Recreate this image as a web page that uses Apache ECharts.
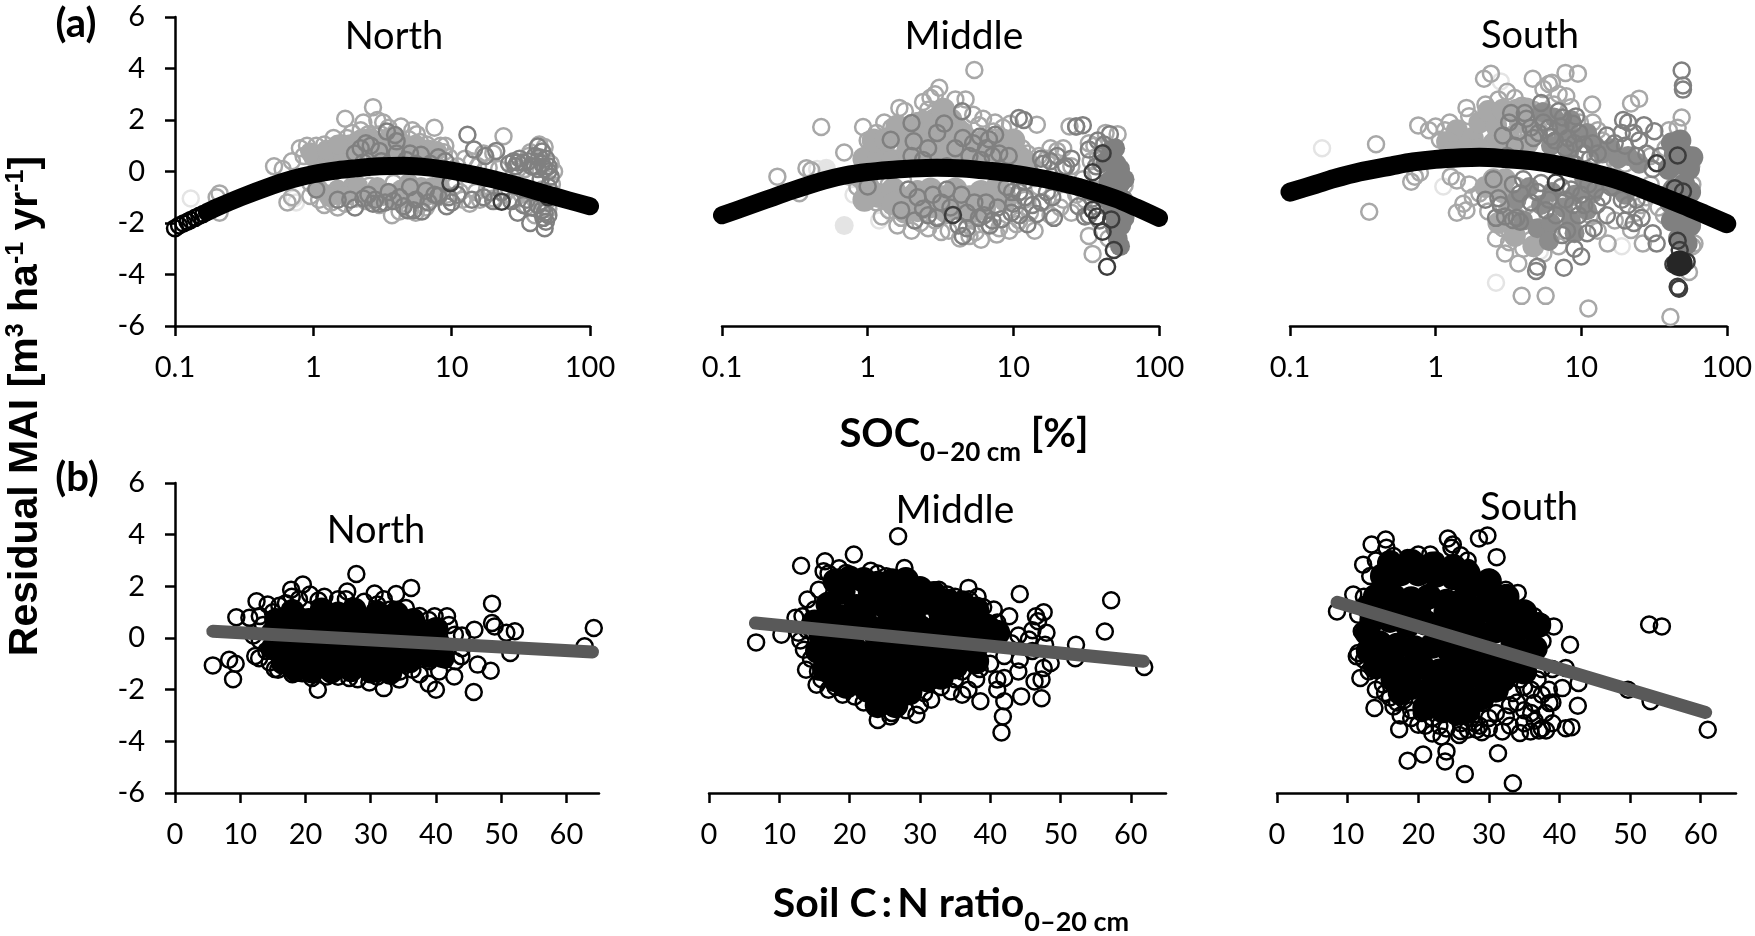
<!DOCTYPE html>
<html><head><meta charset="utf-8">
<script src="https://cdn.jsdelivr.net/npm/echarts@6/dist/echarts.min.js"></script>
<style>html,body{margin:0;padding:0;background:#fff}#c{width:1755px;height:936px}</style></head>
<body><div id="c"></div>
<script>
const cnTicks=[0,10,20,30,40,50,60];
const socNorthFaint=[[0.13,-1.05],[0.75,-1.2],[0.72,-1.05]];
const socNorthLight=[[0.21,-0.85],[0.2,-1.0],[0.21,-1.6],[0.52,0.2],[0.6,0.1],[0.65,-1.2],[0.7,-1.0],[0.8,0.9],[0.85,0.6],[0.7,0.4],[0.9,1.0],[1.05,1.0],[1.1,0.7],[1.2,1.05],[1.2,-1.3],[1.3,0.8],[1.4,1.3],[1.5,-1.4],[1.6,1.1],[1.7,2.05],[1.9,1.5],[2.2,1.6],[2.3,1.9],[2.7,2.5],[2.9,2.0],[3.2,1.9],[3.5,1.7],[4.3,1.75],[5.2,1.6],[5.6,1.45],[7.5,1.7],[9,1.0],[8.3,1.0],[7.5,0.7],[8.8,0.75],[3.7,-1.7],[4.2,-1.55],[5,-1.5],[5.5,-1.6],[6.5,-1.4],[7,-1.1],[8,-1],[9.2,-0.9],[1.1,-1.1],[0.95,-0.95],[1.35,-1.2],[1.7,-1.25],[2.4,-1.15],[3,-1.3],[12,-1.1],[15,-0.8],[13.5,-1.25],[23.7,1.37],[20,0.7],[17,0.7],[14,0.4],[11,0.2],[24,-0.9],[28,-1.1],[35,-1.35],[40,-1.7],[43,1.05],[52,0.3],[55,0],[53,-0.5],[36,0.6],[18,-0.7],[6.2,0.85],[4,0.95],[2.6,0.6],[1.6,0.5]];
const socNorthLight2=[[1.15,0.3],[1.25,0.1],[1.45,0.9],[1.55,0.2],[1.75,1.3],[1.85,0.95],[2.05,1.2],[2.15,0.15],[2.5,1.45],[2.75,1.15],[3.05,1.45],[3.35,0.5],[3.7,1.05],[4.1,1.3],[4.5,0.45],[4.9,1.25],[5.4,0.95],[5.9,1.15],[6.6,1.05],[7.1,0.3],[8.1,0.35],[9.6,0.55],[0.95,-0.45],[1.25,-0.85],[1.65,-0.5],[2.05,-1.05],[2.55,-0.55],[3.15,-0.95],[3.8,-0.45],[4.4,-1.25],[5.2,-0.95],[6,-1.25],[7,-0.6],[8.2,-0.7],[10.5,-0.55],[11.5,-0.8],[12.5,0.5],[15.5,0.2],[18.5,0.15],[22,0.1],[16,-1.1],[20,-1.05],[26,-0.7],[32,-0.9],[36,-0.9],[40,-1.1],[45,-0.7],[48,-1.2],[50,-1.45],[52,-0.8],[30,0.1],[37,0.75],[34,0.1],[47,0.95]];
const socNorthCore=[[1,0.55],[1.3,0.45],[1.6,0.75],[2,0.5],[2.4,1.0],[2.8,0.6],[3.3,0.9],[3.9,0.6],[4.6,0.95],[5.3,0.6],[6.2,0.6],[7,0.55],[1.5,-0.7],[1.9,-0.6],[2.3,-0.85],[2.9,-0.6],[3.5,-0.85],[4.3,-0.7],[5.1,-0.85],[6,-0.6],[1.1,-0.7],[2.6,1.3],[3.6,1.3],[1.8,1.05],[2.2,1.25],[4.2,1.2],[5.5,1.05],[0.95,0.75],[1.25,0.85],[1.5,1.05],[2.9,1.15],[3.3,0.55],[4.6,0.55],[5.8,0.95],[6.8,0.85],[7.8,0.8],[1.3,-1],[1.7,-0.95],[2.1,-0.55],[2.6,-1.05],[3.2,-0.95],[3.9,-1.05],[4.7,-1.05],[5.6,-0.9],[6.6,-0.95],[7.3,-0.6],[8.2,-0.55],[4.9,-0.45]];
const socNorthMid=[[3.4,1.55],[3.9,1.42],[4,1.17],[2.4,1.1],[2.6,1.0],[2.2,0.9],[2,0.7],[1.05,-0.7],[13,1.43],[14.5,0.85],[17.5,0.6],[21,0.8],[26,0.3],[31,0.5],[33,0.35],[29,0.2],[42,0.97],[45,0.78],[38,0.2],[48,0.5],[50,0.2],[44,-0.3],[50,-0.6],[48,-1.95],[47,-2.2],[46,-1.8],[37,-2],[45,-1.5],[30,-1.6],[33,-1.3],[17,-1],[19,-0.8],[10,-1.2],[9.5,-1],[5.3,-1.5],[4.8,-1.5],[6.1,-1.55],[3,-1.25],[2.8,-1.1],[2,-1.4],[1.85,-1.1],[1.5,-1.1],[2.5,-0.9],[3.5,-0.8],[4.2,-1],[5,-0.6],[6.5,-0.75],[7.5,-0.9],[5,0.7],[6,0.65],[8,0.55],[9,0.4],[3,0.8],[4,0.7],[40,0.2],[43,0.55],[50,0],[52,-0.2]];
const socNorthMid2=[[2.3,-1.05],[2.7,-1.25],[3.3,-1.2],[3.8,-1.15],[4.5,-1.35],[5.5,-1.1],[6.8,-1.2],[8,-0.95],[9.2,-1.35],[11,-0.9],[14,-1.1],[20,-1.15],[23,-0.8],[27,-1.15],[35,-1.1],[38,-1.4],[42,-1.3],[47,-1.6],[50,-1.7],[40,0.6],[36,0.4],[28,0.4],[30,0.35],[45,0.3],[47,0.1],[42,0.1],[5.5,0.3],[4.7,0.45],[3.1,0.4],[2.3,0.35],[7,0.3]];
const socNorthDark=[[9.8,-0.45],[23,-1.17],[50,-1]];
const curveNorthRings=[[0.1,-2.2],[0.107,-2.1],[0.115,-2.02],[0.123,-1.95],[0.13,-1.88],[0.14,-1.8],[0.15,-1.72],[0.16,-1.65]];
const curveNorth=[[0.17,-1.58],[0.2,-1.4],[0.3,-1.0],[0.5,-0.55],[0.7,-0.3],[1,-0.1],[1.5,0.05],[2,0.12],[3,0.2],[4.5,0.22],[7,0.15],[10,0.03],[15,-0.15],[20,-0.3],[30,-0.55],[50,-0.9],[70,-1.12],[100,-1.35]];

const socMiddleFaint=[[0.45,0.1],[0.52,0.0],[0.8,-0.9],[1.2,-1.9],[1.8,-1.5]];
const socMiddleFaintSolid=[[0.52,0.13],[0.69,-2.1]];
const socMiddleLight=[[0.24,-0.2],[0.34,-0.84],[0.38,0.13],[0.41,0.05],[0.48,1.73],[0.69,0.74],[0.75,-0.2],[0.85,-0.6],[0.93,1.73],[1,1.2],[1.1,0.9],[1.15,1.5],[1.3,1.9],[1.45,1.7],[1.65,2.47],[1.8,2.35],[2.6,2.4],[2.4,2.7],[2.7,2.86],[3.1,3.25],[2.9,3],[3.4,2.2],[4,2.8],[4.7,2.8],[5.4,3.94],[5.8,1.8],[7.5,1.9],[8.5,1.7],[9.5,1.85],[14.5,1.82],[24.3,1.75],[27,1.75],[52,1.45],[43,1.5],[20,0.8],[17,0.5],[22,0.9],[13,0.35],[15,-0.6],[12,-1.1],[16,-1.2],[21,-1.4],[25,-1.6],[30,-0.3],[34,0.4],[36,1],[1,-0.9],[1.15,-1.2],[1.4,-1.5],[1.7,-1.8],[2.3,-2],[2.9,-1.9],[3.6,-2.3],[4.3,-2.6],[5.5,-2.35],[6.5,-2.1],[8,-2.2],[11,-1.9],[14,-2.3],[35,-3.2],[55,-0.1],[58,-0.55],[45,-2.6],[10,0.9],[7,0.5],[4.6,0.7],[2,0.7],[1.4,-0.5]];
const socMiddleLight2=[[1.05,0.2],[1.25,-0.2],[1.35,1.05],[1.55,1.4],[1.75,-0.35],[1.95,1.55],[2.15,1.95],[2.5,1.6],[2.85,1.1],[3.1,0.35],[3.6,1.05],[4.2,1.75],[4.9,1.15],[5.3,2.2],[6.2,2.05],[6.8,0.85],[7.3,1.55],[8.2,1.25],[9.3,0.95],[9.8,0.35],[11.5,0.9],[12.5,0.7],[15,0.6],[18,0.9],[14,-0.25],[11,-0.35],[9,-0.9],[7.5,-1.3],[6.1,-1.45],[5.2,-1.85],[4.3,-1.55],[3.4,-1.65],[2.6,-1.45],[1.9,-1.35],[1.25,-1.75],[1.6,-2.1],[2,-2.3],[2.6,-2.2],[3.2,-2.35],[5,-2.5],[6,-2.65],[7.7,-2.45],[9.4,-2.3],[10.5,-2.05],[13,-1.6],[18,-1.7],[22,-1.1],[27,-0.9],[31,-1.1],[33,-2.5],[37,-0.1],[38,0.6],[42,-1],[33,1.1],[25,0.2]];
const socMiddleCore=[[0.95,0.5],[1.2,0.7],[1.5,0.4],[1.9,0.8],[2.3,1.3],[2.7,0.7],[3.2,1.5],[3.8,0.8],[4.4,1.5],[5.2,0.8],[6.3,1.2],[7.5,0.7],[9,0.7],[10.5,0.4],[1,-0.6],[1.2,-0.95],[1.5,-0.7],[1.8,-1.1],[2.2,-0.8],[2.7,-0.7],[3.3,-1],[4,-0.7],[5,-1],[6,-0.8],[7,-0.9],[2.9,2],[3.7,2],[2.4,1.9],[0.9,-0.2],[0.95,-1.1],[1.1,1.2],[1.35,1.25],[1.7,1.4],[1.5,-1.25],[1.8,-1.55],[2.2,-1.5],[2.7,-1.35],[3.3,-1.45],[4,-1.3],[5,-1.6],[6.3,-1.4],[7.8,-0.6],[8.8,-1.1],[8.5,1.2],[10,1.2],[11,0.55],[12,0.4],[2,1.65],[1.6,1.75],[3.3,2.4],[3,0.6],[2.4,0.5],[5.8,0.3],[6.9,0.3]];
const socMiddleMid=[[2,1.88],[1.44,1.23],[2.07,1.17],[3.35,1.86],[4.45,2.34],[5.9,1.36],[7.5,1.43],[6.8,1.25],[10.9,2.08],[11.8,2.0],[1,-0.58],[2,0.6],[2.4,0.45],[4,0.9],[5,0.6],[6,0.45],[8,0.7],[2.2,-1],[2.4,-1.45],[2.1,-1.9],[2.6,-1.7],[3,-1.8],[2.8,-0.9],[3.5,-0.7],[4.4,-0.9],[4.2,-2.1],[4.5,-2.5],[4.8,-2.2],[5.8,-1.8],[7.2,-1.9],[6.9,-2.1],[6.3,-1.7],[9.7,-1.6],[11,-1.7],[12.5,-2.05],[11,-0.8],[12,-1],[9,-0.6],[15.5,-1.2],[17,-0.8],[18.5,-1],[19,-1.8],[25,0.5],[23,0.2],[18,0.4],[16,0.3],[28,-0.6],[30,1.8],[27,1.75],[38,1.2],[46,1.45],[39,-1.9],[33,-1.7],[34,-0.8]];
const socMiddleMid2=[[2.6,0.9],[3,1.5],[3.5,0.2],[4.5,1.3],[5.3,1.1],[6.5,0.9],[7.2,0.6],[9.3,0.6],[9.8,-0.8],[1.7,-1.5],[1.9,-0.7],[3.2,-1.2],[3.7,-1.4],[4.8,-1.6],[5.4,-1.2],[6.5,-1.2],[7.8,-1.4],[8.3,-1.85],[10,-1.25],[12,-0.4],[13.5,-1.3],[14.5,-1.65],[15.5,0.5],[20,0.6],[22,0.15],[28,-1.35],[31,-1.75],[35,-1.05],[37,0.2],[40,0.3],[42,1.05],[33,0.85]];
const socMiddleColumn=[[50,0.9],[51,0.3],[54,0.1],[49,-0.2],[54,-0.5],[46,-1.2],[52,-1],[48,-1.6],[55,-1.4],[55,-2.1],[52,-2.6],[43,0.4],[47,0.8],[58,-0.3],[45,-0.4],[57,-1.1],[58,-1.8],[50,-2.2],[54,-2.9],[42,-0.9]];
const socMiddleDark=[[41,0.71],[35,-0.03],[3.85,-1.69],[35,-1.49],[37.5,-1.75],[47,-1.86],[41,-2.34],[49,-3.05],[44,-3.7]];
const curveMiddle=[[0.1,-1.7],[0.15,-1.35],[0.2,-1.1],[0.3,-0.75],[0.5,-0.35],[0.7,-0.15],[1,-0.02],[1.5,0.07],[2,0.12],[3,0.15],[4.5,0.12],[7,0.02],[10,-0.08],[15,-0.25],[20,-0.4],[30,-0.65],[50,-1.05],[70,-1.4],[100,-1.8]];

const socSouthFaint=[[0.166,0.9],[1.13,-0.58],[2.6,-4.32],[19,-2.9],[2.8,3.5],[5.2,-3.1]];
const socSouthLight=[[0.39,1.06],[0.35,-1.56],[0.76,1.79],[0.9,1.6],[1.0,1.75],[1.16,1.6],[1.07,1.23],[0.68,-0.4],[0.72,-0.2],[0.78,-0.05],[1.27,-0.2],[1.4,-0.35],[1.4,-1.6],[1.63,-1.5],[1.55,-1.25],[1.8,-1],[1.63,2.47],[2.15,3.6],[2.4,3.8],[2.2,2.6],[2.7,2.8],[3.1,3.1],[3.5,2.85],[4.65,3.6],[5.5,3.2],[6,3.4],[6.3,3.45],[7.8,3.83],[9.5,3.8],[7,3],[7.9,2.92],[11.9,2.6],[25,2.83],[22,2.64],[3.9,-4.83],[5.7,-4.83],[11.2,-5.32],[41,-5.65],[2.6,-2.6],[3,-3.18],[3.7,-3.57],[4.5,-2.66],[5.5,-3.18],[4,-3],[3.2,-2.75],[15.2,-2.8],[26.5,-2.8],[22,-2.27],[24,-1.6],[28,-1],[30,0.6],[24,0.4],[14,1.2],[12,1.9],[13,1.6],[9,1.4],[6,1.9],[4,2.1],[60,-2.8],[55,-3.9],[54,-1],[57,0.2],[49,2.1],[46,1.7],[44,1.2]];
const socSouthLight2=[[1.25,1.9],[1.5,1.05],[1.7,2.15],[1.9,0.95],[2.05,1.45],[2.35,2.05],[2.65,1.55],[3,2.3],[3.4,1.45],[3.9,2.55],[4.7,2.4],[5.6,2.35],[6.5,2.6],[8.5,2.5],[9.8,1.9],[11,1.25],[12.5,0.6],[14,0.2],[17,0.4],[20,0.3],[1.7,-0.5],[2,-0.85],[2.3,-1.55],[3.6,-0.55],[4.3,-1.3],[4.7,-1.65],[5.9,-1.75],[7.2,-1.2],[8.8,-1.6],[2.9,-2.2],[3.4,-2.3],[4.2,-2.4],[4.6,-2.9],[6.2,-2.55],[7,-2.9],[9,-2.3],[11.5,-1.7],[13,-2.3],[17,-1.9],[20,-0.7],[26,-1.3],[30,-0.5],[34,-1.4],[37,-1.7],[38,0.9],[40,1.6],[57,-1.6],[58,-0.5],[58,-2.9]];
const socSouthCore=[[1.4,1.6],[1.8,1.3],[2,1.9],[2.5,1.1],[2.6,1.8],[3.2,1.3],[3.8,1.9],[4.3,1.1],[5,1.6],[1.2,1.15],[1.3,0.75],[1.6,0.9],[2,0.85],[2.3,2.35],[2.9,2.4],[3.4,0.8],[3.6,2.4],[4.2,2.45],[2.5,-0.3],[2.9,-0.8],[2.2,-0.6],[3,-0.3],[2.7,-2],[3.5,-2.5],[4.7,-2.9],[3.2,-1.5]];
const socSouthCoreDeep=[[6.2,1],[7.5,1.5],[3.6,-1.1],[4.4,-0.6],[5.3,-1.3],[6.3,-0.8],[7.5,-1.4],[9,-0.9],[4,-1.9],[5,-2.2],[6.2,-2],[5.4,2.3],[6.5,2.1],[8.5,2],[9.5,1.3],[11,1.5],[12.5,1],[14,0.7],[16,0.9],[18,0.5],[21,0.6],[25,0.3],[8.3,0.8],[10.5,-0.3],[12,-0.85],[11,-1.5],[8.5,-1.9],[6,-2.7],[14,-0.3],[17,-0.6],[20,-0.9],[9,-2.4]];
const socSouthMid=[[49,3.92],[50,3.34],[50,3.18],[7.6,-3.74],[4.9,-3.86],[5,-3.7],[10,-3.3],[9,-3],[7.4,-2.47],[8,-2.3],[12.2,-2.2],[11,-2.4],[2.2,-1.1],[2.7,-1.04],[2.8,-1.3],[3.8,-1.95],[3.6,-1.8],[3.4,-1.88],[2.6,-1.8],[3,-1.75],[3.3,2.27],[5.3,2.66],[4.1,2.27],[7,2.34],[7.5,2.1],[9.2,2.14],[3.1,0.6],[3.5,1],[4.5,1.7],[5.1,1.5],[6,1.7],[6.6,1.2],[7.8,0.9],[9,1.1],[10.5,0.7],[9,0.3],[2.5,-0.3],[4,-0.3],[5,-0.8],[6,-1.1],[8.5,-0.7],[10,-0.9],[12.5,-0.7],[14,-1],[15,-1.7],[19.4,2],[21,1.9],[19,1.5],[31.8,1.56],[27,1.8],[15,1.4],[17,1.1],[20,1],[24,0.6],[31,-2.4],[26,-1.8],[21,-1.3],[19,-1.1]];
const socSouthMid2=[[2.9,1.4],[3.2,1.9],[3.7,1.55],[4.2,2.05],[4.7,1.3],[5.5,1.9],[6.2,1.35],[7.2,1.75],[8.1,1.3],[8.8,1.85],[9.7,1.5],[10.5,1.05],[11.5,0.5],[12,1.1],[13,0.7],[3.4,-0.5],[3.8,-0.85],[4.5,-1.2],[5.3,-0.45],[5.7,-1.5],[6.7,-1.7],[7.3,-0.6],[7.8,-1.1],[8.8,-1.3],[9.6,-1.7],[10.5,-1.3],[11.2,-0.5],[12.8,-1.3],[16,-0.6],[22,-0.5],[24,-1.1],[23,1.5],[25,1.2],[28,0.7],[31,0.1],[35,0.6],[38,-0.9],[20,-1.9],[23,-2],[33,-2.8]];
const socSouthColumn=[[42,1.1],[48,1.2],[52,0.6],[46,0.3],[55,0.1],[43,-0.7],[51,-0.5],[56,-0.8],[45,-1.4],[52,-1.5],[42,-1.9],[50,-2.2],[56,-2.1],[44,0.7],[58,0.55],[40,0.1],[57,-1.5],[47,-2.6],[53,-2.8],[41,-1.2]];
const socSouthDark=[[6.7,-0.43],[33,0.32],[46,0.62],[44,-0.65],[50,-0.78],[46,-2.69],[47.5,-3.05],[53,-3.5],[43,-3.6],[46,-4.48],[47,-4.55]];
const socSouthBlot=[[47.5,-3.57]];
const curveSouth=[[0.1,-0.8],[0.15,-0.5],[0.2,-0.28],[0.3,-0.02],[0.5,0.22],[0.7,0.37],[1,0.47],[1.5,0.53],[2,0.55],[3,0.5],[4.5,0.42],[7,0.25],[10,0.05],[15,-0.2],[20,-0.42],[30,-0.8],[50,-1.3],[70,-1.65],[100,-2.03]];

const cnNorthRings=[[5.8,-1.06],[8.3,-0.84],[9.3,-1.0],[8.9,-1.6],[9.4,0.8],[12.5,1.42],[11.4,0.78],[12.3,-0.7],[12.9,-0.78],[14.2,1.3],[13,0.85],[17.8,1.87],[19.6,2.07],[17.9,1.6],[20.7,1.68],[22.9,1.6],[26.4,1.8],[26.2,1.5],[27.8,2.48],[30.6,1.72],[33.9,1.7],[36.2,1.94],[35.4,1.16],[39.8,0.84],[41.7,0.84],[38.9,0.7],[42.9,0.13],[45.9,0.32],[48.6,1.33],[48.6,0.58],[49,0.45],[50.8,0.2],[52.1,0.26],[64.2,0.39],[62.8,-0.32],[51.4,-0.58],[46.4,-1.03],[48.4,-1.27],[45.8,-2.09],[42.8,-1.49],[40,-2.0],[38.9,-1.77],[34.4,-1.61],[32,-1.94],[29.8,-1.72],[26.7,-1.55],[21.9,-2.0],[23.3,-1.49],[19.5,-1.36],[15.8,-1.23],[15.3,-1.2],[36.4,-1.23],[41.4,-0.84],[43.9,-0.71],[40.5,0.4],[37.5,0.85],[44,-0.4],[39,-0.9],[15,1],[17,1.35],[31,1.3],[33,1.1],[12,0.1],[13.5,0.5],[13,-0.1],[14,-0.5],[14.5,-0.95],[42,0.5],[44,0.1],[43,-0.9],[40.5,-1.3],[37.5,-1.4],[34.5,-1.3],[31,-1.5],[28,-1.6],[25,-1.5],[21,-1.55],[18,-1.4],[22,1.45],[25,1.5],[29,1.4],[32,1.5],[19,1.5],[16,1.25]];
const cnNorthCore=[[15.5,0.7],[18,1.05],[20.5,0.7],[22.5,1.1],[25,0.7],[27.5,1.1],[30,0.7],[32,0.75],[35,0.65],[37,0.4],[15,0.2],[18,0.3],[21,0.15],[24,0.3],[27,0.2],[30,0.25],[33,0.15],[36,0.1],[38.5,0.1],[15,-0.4],[17.5,-0.5],[20.5,-0.4],[23.5,-0.55],[26.5,-0.4],[29.5,-0.5],[32.5,-0.4],[35.5,-0.5],[38,-0.45],[16.5,-0.95],[19,-1.05],[22,-1],[25,-1.1],[28,-1],[31,-1.2],[33.5,-1.05],[36,-0.9],[40.5,-0.3],[16,0.4],[19,0.75],[22,0.65],[25,0.95],[28,0.75],[31,1.0],[34,0.95],[36.5,0.7],[16.5,-0.15],[19.5,0.0],[23,-0.1],[26,-0.05],[29,0],[32,-0.05],[35,-0.1],[38,-0.1],[17,-0.75],[20,-0.8],[23,-0.85],[26,-0.75],[29,-0.85],[32,-0.85],[35,-0.75],[18.5,-1.25],[21,-1.3],[24,-1.3],[27,-1.25],[30,-1.3],[33,-1.35],[40,0.35],[41,-0.7],[39,-0.7]];
const lineNorth=[[5.8,0.26],[64,-0.54]];

const cnMiddleRings=[[6.7,-0.17],[10.3,0.13],[13.1,2.8],[16.5,2.97],[20.6,3.23],[26.9,3.94],[27.8,2.71],[25.2,2.39],[19.5,2.52],[21.7,2.33],[16.3,2.58],[15.6,1.87],[14,1.49],[13.3,0.84],[12.3,0.78],[13.5,-0.45],[13.8,-1.23],[15.3,-1.81],[17,-2.0],[20.7,-2.26],[24,-3.17],[25.8,-3.04],[26,-2.9],[29.5,-2.97],[31.6,-2.39],[30.6,-2.13],[34.4,-2.07],[36.9,-2.0],[38.6,-2.45],[41.6,-3.66],[41.8,-3.04],[42,-2.45],[44.4,-2.26],[47.3,-2.33],[47.3,-1.61],[46.3,-1.68],[42,-1.55],[41,-1.61],[47.6,-1.16],[48.6,-0.97],[44.2,-0.84],[52.1,-0.78],[52.2,-0.26],[56.3,0.25],[57.2,1.46],[61.9,-1.12],[47.6,1.0],[46.5,0.84],[46.8,0.65],[44.2,1.7],[42.7,0.84],[40.5,1.1],[38.2,1.6],[36.9,1.94],[33.9,1.68],[32.7,1.87],[47.8,-0.26],[45.5,-0.06],[38.5,-1.2],[35,-1.6],[33,-1.9],[40,0.2],[43,-0.2],[38,0.7],[12.7,0.2],[15.5,-1.3],[18,-1.9],[36,-1.3],[34,-1.1],[38,-0.6],[40,-1.0],[42,-0.7],[44,-1.3],[46,-0.5],[44,0.1],[46,0.3],[48,0.2],[41,0.6],[39,1.2],[37,1.5],[35,1.6],[41,-2],[38,-1.6],[36,-2.2],[30,-2.6],[28,-2.8],[22,-2.5],[19,-2.2],[16,-1.6],[14.5,-0.8],[14,0.3],[13,-0.1],[15,1.1],[17,2.5],[18.5,2.7],[23,2.6],[24,2.5]];
const cnMiddleCore=[[17,1.3],[19,1.8],[21,1.2],[23,1.8],[25,1.25],[27,1.75],[29,1.2],[31,1.4],[33,1],[35,1.1],[37,0.9],[15,0.6],[17.5,0.6],[20,0.4],[22.5,0.5],[25,0.4],[27.5,0.5],[30,0.4],[32.5,0.3],[35,0.35],[37.5,0.2],[39.5,0.45],[15.5,-0.5],[18,-0.6],[20.5,-0.35],[23,-0.6],[25.5,-0.4],[28,-0.65],[30.5,-0.4],[33,-0.55],[36,-0.5],[16.5,-1.2],[19,-1.4],[21.5,-1.1],[24,-1.35],[26.5,-1.1],[29,-1.4],[31.5,-1.15],[22.5,-2],[24.5,-2.3],[26.5,-1.95],[28.5,-2.1],[19.5,-1.85],[18,2.2],[20,2.3],[22,2.25],[24,2.1],[26,2.2],[28,2.25],[30,1.9],[32,1.7],[34,1.4],[36,1.35],[38,1.1],[16,0.1],[19,0.8],[22,1],[26,0.9],[29,0.9],[33,0.6],[36,0.75],[39,0.1],[41,0.2],[17,-0.1],[20,-0.1],[24,0],[27,0],[30,0],[34,-0.1],[38,-0.3],[17,-0.85],[20,-0.9],[23,-1],[26,-0.9],[30,-1],[33,-1],[35,-1.1],[38,-0.9],[18,-1.6],[21,-1.7],[23,-1.75],[25,-1.65],[28,-1.75],[31,-1.6],[33,-1.5],[24,-2.6],[26.5,-2.6]];
const lineMiddle=[[6.6,0.58],[61.8,-0.9]];

const cnSouthRings=[[8.5,1.03],[10.8,1.68],[12.2,2.84],[13.4,3.62],[15.4,3.81],[15.5,3.49],[16.5,3.17],[20,3.23],[21.7,3.23],[24.2,3.85],[24.9,3.62],[24.7,3.49],[28.6,3.85],[29.8,3.97],[31.1,3.13],[27.1,2.71],[30.1,2.33],[34.1,1.74],[32.4,1.87],[36.4,0.84],[39.2,0.45],[37.6,-0.13],[41.5,-0.26],[40.9,-1.16],[42.7,-1.74],[40.4,-1.94],[42.6,-2.62],[38.6,-2.52],[41.7,-3.45],[40.9,-3.49],[38.1,-3.58],[37.1,-3.58],[35.9,-3.62],[34.4,-3.68],[31.9,-3.62],[31.3,-4.46],[33.4,-5.62],[26.6,-5.26],[23.8,-4.78],[24,-4.39],[20.7,-4.51],[18.5,-4.75],[17.3,-3.53],[13.8,-2.71],[11.8,-1.55],[11.3,-0.71],[11.5,-0.58],[12.3,-0.84],[12,0.26],[15.3,-2.13],[16.5,-2.65],[20,-3.36],[23.3,-3.81],[25.8,-3.75],[28.3,-3.55],[49.7,-2.0],[52.9,-2.45],[52.7,0.52],[54.5,0.45],[61,-3.55],[36.4,-2.52],[34.4,-1.61],[36.9,-1.61],[32.4,-3.04],[29.3,-2.52],[33.4,-2.13],[28.7,-3.4],[29,-3.65],[27.5,-3.1],[35,-2.8],[37.5,-2.2],[19,-2.8],[18,-2.4],[22,-3.1],[33,1.4],[35,1.1],[37.5,0.6],[14,-2],[16,-2.3],[17.5,-3],[20.5,-2.9],[23,-3.4],[26,-3.3],[30,-3.1],[34,-2.5],[39,-1.2],[38.5,-2],[36,-2],[26,-3.6],[27,-3.55],[28,-3.3],[30,-3.5],[33,-3.4],[35,-3.3],[36.5,-3.2],[37.5,-3.5],[39,-3.3],[31,-2.9],[33,-2.6],[36,-2.9],[38,-2.9],[39,-2.5],[37.5,-1.2],[35,-1.9],[21,-3.4],[24,-3.5],[22,-3.7],[19,-3.1],[17,-2.5],[15,-1.8],[13,-1.3],[18.5,3.1],[22.5,3.0],[26,3.2],[27,3],[14,3],[13.2,2.4],[12.3,1.6],[11.5,0.9]];
const cnSouthCore=[[15,2.4],[17.5,2.5],[20,2.5],[22.5,2.45],[25,2.35],[27.5,2.1],[30,1.7],[14,1.6],[16.5,1.6],[19,1.5],[21.5,1.6],[24,1.4],[26.5,1.5],[29,1.1],[31.5,1.1],[34,0.6],[36,0.4],[13.5,0.7],[16,0.7],[18.5,0.5],[21,0.6],[23.5,0.4],[26,0.5],[28.5,0.2],[31,0.3],[33.5,-0.2],[14.5,-0.2],[17,-0.3],[19.5,-0.4],[22,-0.3],[24.5,-0.5],[27,-0.4],[29.5,-0.6],[32,-0.8],[15.5,-1],[18,-1.2],[20.5,-1.1],[23,-1.3],[25.5,-1.2],[28,-1.4],[30,-1.5],[19,-1.9],[21.5,-2],[24,-2.1],[26.5,-2.2],[23.5,-2.8],[25.5,-2.9],[16,2.9],[19,2.95],[22,2.85],[25,2.75],[27,2.5],[30,2.2],[32.5,1.6],[35,1],[37,0.5],[13,1.2],[12.8,0.2],[13,-0.5],[14,-1.1],[16.5,-1.6],[17.5,-2.1],[21,-2.7],[27,-2.8],[29,-2.3],[31,-2],[33,-1.3],[35,-0.6],[36.5,-0.4],[22,-2.4],[25,-1.7],[28,-1],[30,-1],[32,-1.6],[35,-1.3],[20,1.1],[24,1],[27.5,0.9],[31,0.9],[18,1.1],[16,1.1]];
const lineSouth=[[8.5,1.38],[60.7,-2.88]];

const grids=[
 {left:175,top:17,width:415,height:309},{left:722,top:17,width:437,height:309},{left:1290,top:17,width:437,height:309},
 {left:175,top:483,width:424,height:310},{left:709,top:483,width:457,height:310},{left:1277,top:483,width:459,height:310}];
const ink='#000',F='Lato, "Noto Sans", sans-serif',YF='"Liberation Sans", Arial, sans-serif';
const lineSty={color:ink,width:2.5};
const xAxes=grids.map((g,i)=>Object.assign({gridIndex:i,position:'bottom',axisLine:{show:true,onZero:false,lineStyle:lineSty},splitLine:{show:false},minorTick:{show:false}},
  i<3?{type:'log',logBase:10,min:0.1,max:100,
    axisTick:{show:true,length:10,lineStyle:lineSty},
    axisLabel:{color:ink,fontFamily:F,fontSize:29,margin:27,showMinLabel:true,showMaxLabel:true}}
   :{type:'value',min:0,max:65,interval:10,
    axisTick:{show:true,length:10,lineStyle:lineSty,customValues:cnTicks},
    axisLabel:{color:ink,fontFamily:F,fontSize:29,margin:27,customValues:cnTicks}}));
const yAxes=grids.map((g,i)=>({gridIndex:i,type:'value',min:-6,max:6,interval:2,show:i===0||i===3,axisLine:{show:true,onZero:false,lineStyle:lineSty},axisTick:{show:true,length:10,lineStyle:lineSty},splitLine:{show:false},
  axisLabel:{color:ink,fontFamily:F,fontSize:29,margin:30,showMinLabel:true,showMaxLabel:true}}));
function ring(i,data,color,w){return{type:'scatter',xAxisIndex:i,yAxisIndex:i,data,symbol:'circle',symbolSize:16,silent:true,animation:false,clip:false,itemStyle:{color:'rgba(255,255,255,0)',borderColor:color,borderWidth:w||2.5,opacity:1}};}
function disc(i,data,color,size){return{type:'scatter',xAxisIndex:i,yAxisIndex:i,data,symbol:'circle',symbolSize:size,silent:true,animation:false,clip:false,itemStyle:{color,opacity:1}};}
function line(i,data,color,w,smooth){return{type:'line',xAxisIndex:i,yAxisIndex:i,data,showSymbol:false,symbol:'none',smooth:smooth?0.3:false,silent:true,animation:false,clip:false,lineStyle:{color,width:w,cap:'round',join:'round'},z:5};}
const L='#a8a8a8',M='#808080',D='#3c3c3c',Fa='#e4e4e4',Co='#a8a8a8',De='#8c8c8c';
const series=[
 ring(0,socNorthFaint,Fa),ring(0,socNorthLight,L),ring(0,socNorthLight2,L),disc(0,socNorthCore,Co,20),ring(0,socNorthMid,M),ring(0,socNorthMid2,M),ring(0,socNorthDark,D),ring(0,curveNorthRings,'#000'),line(0,curveNorth,'#000',18,true),
 disc(1,socMiddleFaintSolid,Fa,19),ring(1,socMiddleFaint,Fa),ring(1,socMiddleLight,L),ring(1,socMiddleLight2,L),disc(1,socMiddleCore,Co,24),ring(1,socMiddleMid,M),ring(1,socMiddleMid2,M),disc(1,socMiddleColumn,M,20),ring(1,socMiddleDark,D),line(1,curveMiddle,'#000',18,true),
 ring(2,socSouthFaint,Fa),ring(2,socSouthLight,L),ring(2,socSouthLight2,L),disc(2,socSouthCore,Co,22),disc(2,socSouthCoreDeep,De,20),ring(2,socSouthMid,M),ring(2,socSouthMid2,M),disc(2,socSouthColumn,M,22),ring(2,socSouthDark,D),disc(2,socSouthBlot,'#262626',26),line(2,curveSouth,'#000',19,true),
 ring(3,cnNorthRings,'#000'),disc(3,cnNorthCore,'#000',24),line(3,lineNorth,'#595959',13),
 ring(4,cnMiddleRings,'#000'),disc(4,cnMiddleCore,'#000',26),line(4,lineMiddle,'#595959',13),
 ring(5,cnSouthRings,'#000'),disc(5,cnSouthCore,'#000',26),line(5,lineSouth,'#595959',13)
];
function label(text,x,y,size,weight){return{type:'text',silent:true,x,y,style:{text,fontFamily:F,fontSize:size,fontWeight:weight||'normal',fill:ink,textAlign:'center',textVerticalAlign:'bottom'}};}
const graphic=[
 label('North',394,56,38),label('Middle',964,56,39),label('South',1530,55,38),
 label('North',376,550,38),label('Middle',955,530,39),label('South',1529,527,38),
 label('(a)',76,44,40,'bold'),label('(b)',77,498,40,'bold'),
 {type:'text',silent:true,x:26,y:406,rotation:Math.PI/2,style:{text:'Residual MAI [m{sup|3} ha{sup|-1} yr{sup|-1}]',fontFamily:YF,fontSize:41,fontWeight:'bold',fill:ink,textAlign:'center',textVerticalAlign:'middle',lineHeight:44,
   rich:{sup:{fontFamily:YF,fontSize:25,fontWeight:'bold',fill:ink,verticalAlign:'top',lineHeight:26}}}},
 {type:'text',silent:true,x:964,y:434,style:{text:'{m|SOC}{s|0\u201320 cm}{m| [%]}',fill:ink,textAlign:'center',textVerticalAlign:'middle',
   rich:{m:{fontFamily:F,fontSize:40,fontWeight:'bold',fill:ink,lineHeight:64},s:{fontFamily:F,fontSize:26,fontWeight:'bold',fill:ink,verticalAlign:'bottom',lineHeight:26}}}},
 {type:'text',silent:true,x:951,y:904,style:{text:'{m|Soil C\u2009:\u2009N ratio}{s|0\u201320 cm}',fill:ink,textAlign:'center',textVerticalAlign:'middle',
   rich:{m:{fontFamily:F,fontSize:41,fontWeight:'bold',fill:ink,lineHeight:64},s:{fontFamily:F,fontSize:27,fontWeight:'bold',fill:ink,verticalAlign:'bottom',lineHeight:27}}}}
];
const chart=echarts.init(document.getElementById('c'),null,{renderer:'canvas'});
chart.setOption({animation:false,backgroundColor:'#fff',grid:grids,xAxis:xAxes,yAxis:yAxes,series,graphic});
</script></body></html>
